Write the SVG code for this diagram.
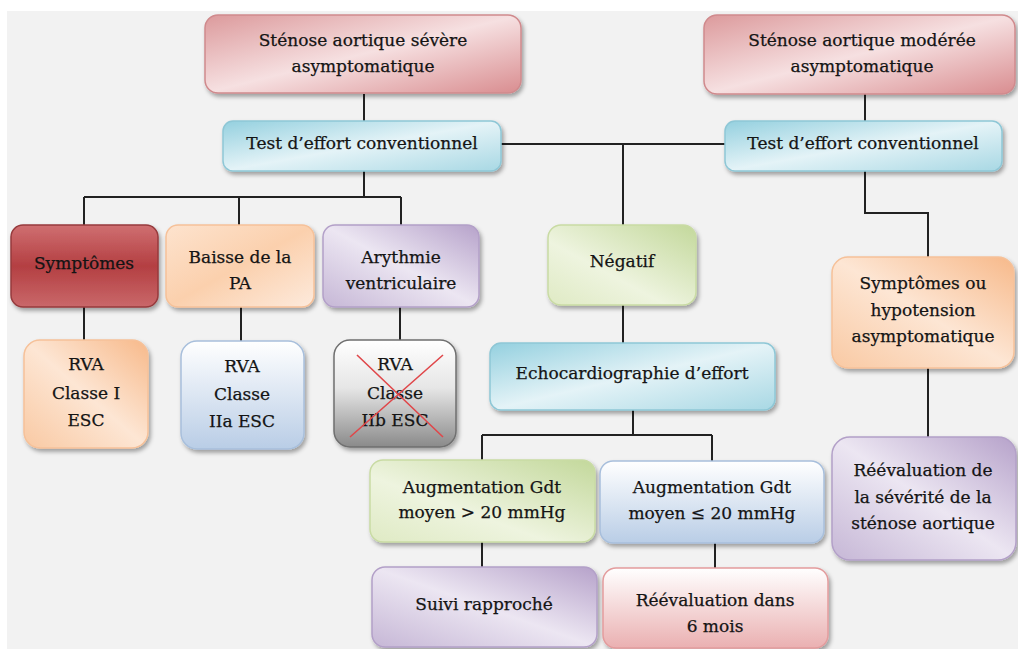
<svg xmlns="http://www.w3.org/2000/svg" width="1018" height="649" viewBox="0 0 1018 649">
<defs>
  <filter id="sh" x="-10%" y="-10%" width="125%" height="130%">
    <feDropShadow dx="2" dy="3" stdDeviation="2" flood-color="#000" flood-opacity="0.35"/>
  </filter>
  <linearGradient id="gRed" x1="0" y1="0" x2="1" y2="1">
    <stop offset="0" stop-color="#dc9a9c"/>
    <stop offset="0.5" stop-color="#f6e0e1"/>
    <stop offset="1" stop-color="#d98d90"/>
  </linearGradient>
  <linearGradient id="gBlue" x1="0" y1="0" x2="1" y2="1">
    <stop offset="0" stop-color="#94d0df"/>
    <stop offset="0.5" stop-color="#e4f3f7"/>
    <stop offset="1" stop-color="#a8d8e4"/>
  </linearGradient>
  <linearGradient id="gDark" x1="0" y1="0" x2="0" y2="1">
    <stop offset="0" stop-color="#cf6f71"/>
    <stop offset="0.5" stop-color="#b43f42"/>
    <stop offset="1" stop-color="#c9686a"/>
  </linearGradient>
  <linearGradient id="gOrange" x1="0" y1="0" x2="1" y2="1">
    <stop offset="0" stop-color="#fde3ce"/>
    <stop offset="0.5" stop-color="#fbd0ad"/>
    <stop offset="1" stop-color="#fdeadc"/>
  </linearGradient>
  <linearGradient id="gOrange2" x1="1" y1="0" x2="0" y2="1">
    <stop offset="0" stop-color="#f7b98a"/>
    <stop offset="0.5" stop-color="#fde6d4"/>
    <stop offset="1" stop-color="#f9c9a3"/>
  </linearGradient>
  <linearGradient id="gPurple" x1="1" y1="0" x2="0" y2="1">
    <stop offset="0" stop-color="#b6a2ca"/>
    <stop offset="0.5" stop-color="#ece6f2"/>
    <stop offset="1" stop-color="#c6b7d6"/>
  </linearGradient>
  <linearGradient id="gGreen" x1="1" y1="0" x2="0" y2="1">
    <stop offset="0" stop-color="#c3d89b"/>
    <stop offset="0.6" stop-color="#eef4df"/>
    <stop offset="1" stop-color="#dfeac4"/>
  </linearGradient>
  <linearGradient id="gLBlue" x1="0" y1="0" x2="0" y2="1">
    <stop offset="0" stop-color="#ffffff"/>
    <stop offset="1" stop-color="#b9cde6"/>
  </linearGradient>
  <linearGradient id="gGray" x1="0" y1="0" x2="0" y2="1">
    <stop offset="0" stop-color="#ffffff"/>
    <stop offset="0.45" stop-color="#e6e6e6"/>
    <stop offset="1" stop-color="#8a8a8a"/>
  </linearGradient>
  <linearGradient id="gPink" x1="0" y1="0" x2="0" y2="1">
    <stop offset="0" stop-color="#ffffff"/>
    <stop offset="1" stop-color="#eab0b1"/>
  </linearGradient>
</defs>
<style>
  .box { filter: url(#sh); stroke-width: 1.5; }
  .t { font-family: "DejaVu Serif", "Liberation Serif", serif; font-size: 17px; fill: #141414; stroke: #141414; stroke-width: 0.25; text-anchor: middle; }
  .c { stroke: #222; stroke-width: 2; fill: none; }
</style>
<rect x="0" y="0" width="1018" height="649" fill="#ffffff"/>
<rect x="7" y="11" width="1011" height="638" fill="#f2f2f2"/>

<g id="connectors">
  <path class="c" d="M364 94 V121"/>
  <path class="c" d="M865 94 V121"/>
  <path class="c" d="M501 144 H725"/>
  <path class="c" d="M623 144 V225"/>
  <path class="c" d="M364 171 V197 M84 197 H401 M84 197 V225 M239 197 V225 M401 197 V225"/>
  <path class="c" d="M84 307 V340 M241 307 V341 M400 307 V340"/>
  <path class="c" d="M623 305 V343"/>
  <path class="c" d="M633 410 V435 M482 435 H712 M482 435 V460 M712 435 V461"/>
  <path class="c" d="M482 542 V567 M715 543 V568"/>
  <path class="c" d="M865 171 V213 H928 V257"/>
  <path class="c" d="M928 368 V437"/>
</g>

<g id="n_severe">
  <rect class="box" x="205" y="15" width="316" height="78" rx="13" fill="url(#gRed)" stroke="#d08a8d"/>
  <text class="t" x="363" y="46">Sténose aortique sévère</text>
  <text class="t" x="363" y="72">asymptomatique</text>
</g>
<g id="n_moderee">
  <rect class="box" x="704" y="15" width="311" height="79" rx="13" fill="url(#gRed)" stroke="#d08a8d"/>
  <text class="t" x="862" y="46">Sténose aortique modérée</text>
  <text class="t" x="862" y="72">asymptomatique</text>
</g>
<g id="n_test1">
  <rect class="box" x="223" y="121" width="278" height="50" rx="10" fill="url(#gBlue)" stroke="#8ec7d6"/>
  <text class="t" x="362" y="149">Test d’effort conventionnel</text>
</g>
<g id="n_test2">
  <rect class="box" x="725" y="121" width="277" height="50" rx="10" fill="url(#gBlue)" stroke="#8ec7d6"/>
  <text class="t" x="863" y="149">Test d’effort conventionnel</text>
</g>
<g id="n_symptomes">
  <rect class="box" x="11" y="225" width="147" height="82" rx="12" fill="url(#gDark)" stroke="#963a3c"/>
  <text class="t" x="84" y="269">Symptômes</text>
</g>
<g id="n_baisse">
  <rect class="box" x="166" y="225" width="148" height="82" rx="12" fill="url(#gOrange)" stroke="#f6c199"/>
  <text class="t" x="240" y="263">Baisse de la</text>
  <text class="t" x="240" y="289">PA</text>
</g>
<g id="n_arythmie">
  <rect class="box" x="323" y="225" width="156" height="82" rx="12" fill="url(#gPurple)" stroke="#b3a0c8"/>
  <text class="t" x="401" y="263">Arythmie</text>
  <text class="t" x="401" y="289">ventriculaire</text>
</g>
<g id="n_rva1">
  <rect class="box" x="24" y="340" width="124" height="108" rx="16" fill="url(#gOrange2)" stroke="#f6c199"/>
  <text class="t" x="86" y="370">RVA</text>
  <text class="t" x="86" y="399">Classe I</text>
  <text class="t" x="86" y="426">ESC</text>
</g>
<g id="n_rva2a">
  <rect class="box" x="181" y="341" width="123" height="108" rx="16" fill="url(#gLBlue)" stroke="#a8bfdc"/>
  <text class="t" x="242" y="372">RVA</text>
  <text class="t" x="242" y="400">Classe</text>
  <text class="t" x="242" y="427">IIa ESC</text>
</g>
<g id="n_rva2b">
  <rect class="box" x="334" y="340" width="122" height="107" rx="16" fill="url(#gGray)" stroke="#6f6f6f"/>
  <text class="t" x="395" y="370">RVA</text>
  <text class="t" x="395" y="399">Classe</text>
  <text class="t" x="395" y="426">IIb ESC</text>
  <path d="M357 355 L443 437 M443 355 L350 437" stroke="#e0474a" stroke-width="1.6" fill="none"/>
</g>
<g id="n_negatif">
  <rect class="box" x="548" y="225" width="148" height="80" rx="13" fill="url(#gGreen)" stroke="#c9dba4"/>
  <text class="t" x="622" y="267">Négatif</text>
</g>
<g id="n_echo">
  <rect class="box" x="490" y="343" width="285" height="67" rx="11" fill="url(#gBlue)" stroke="#8ec7d6"/>
  <text class="t" x="632" y="379">Echocardiographie  d’effort</text>
</g>
<g id="n_sympt_hypo">
  <rect class="box" x="832" y="257" width="182" height="111" rx="16" fill="url(#gOrange2)" stroke="#f6c199"/>
  <text class="t" x="923" y="289">Symptômes ou</text>
  <text class="t" x="923" y="316">hypotension</text>
  <text class="t" x="923" y="342">asymptomatique</text>
</g>
<g id="n_reeval_sev">
  <rect class="box" x="832" y="437" width="184" height="123" rx="18" fill="url(#gPurple)" stroke="#b3a0c8"/>
  <text class="t" x="923" y="476">Réévaluation  de</text>
  <text class="t" x="923" y="503">la sévérité de la</text>
  <text class="t" x="923" y="529">sténose aortique</text>
</g>
<g id="n_aug_sup">
  <rect class="box" x="370" y="460" width="225" height="82" rx="13" fill="url(#gGreen)" stroke="#c9dba4"/>
  <text class="t" x="482" y="493">Augmentation  Gdt</text>
  <text class="t" x="482" y="518">moyen &gt; 20 mmHg</text>
</g>
<g id="n_aug_inf">
  <rect class="box" x="600" y="461" width="224" height="82" rx="13" fill="url(#gLBlue)" stroke="#a8bfdc"/>
  <text class="t" x="712" y="493">Augmentation  Gdt</text>
  <text class="t" x="712" y="519">moyen ≤ 20 mmHg</text>
</g>
<g id="n_suivi">
  <rect class="box" x="372" y="567" width="225" height="80" rx="13" fill="url(#gPurple)" stroke="#b3a0c8"/>
  <text class="t" x="484" y="610">Suivi rapproché</text>
</g>
<g id="n_reeval6">
  <rect class="box" x="603" y="568" width="225" height="80" rx="13" fill="url(#gPink)" stroke="#e39c9d"/>
  <text class="t" x="715" y="606">Réévaluation  dans</text>
  <text class="t" x="715" y="632">6 mois</text>
</g>
</svg>
